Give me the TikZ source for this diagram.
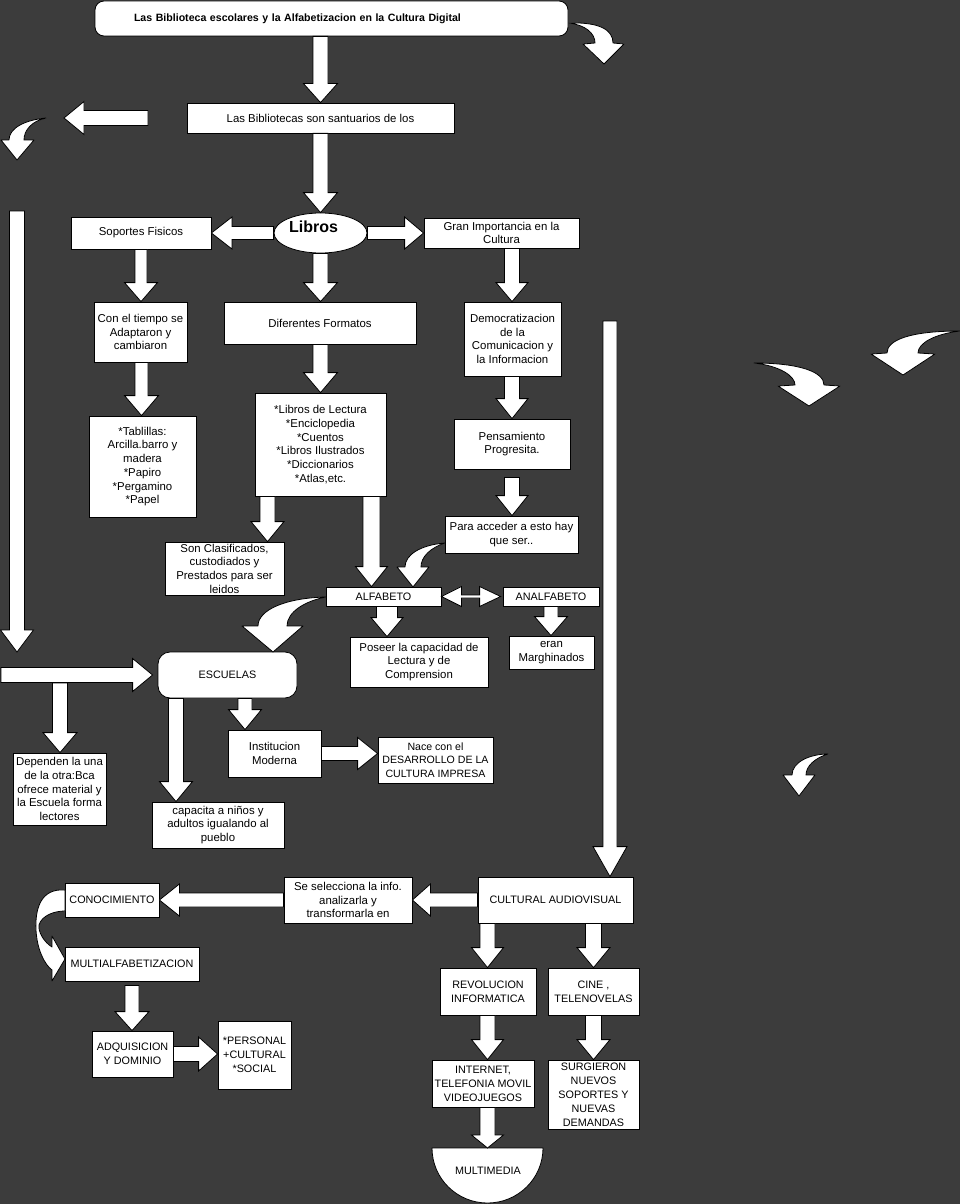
\documentclass[tikz,border=0pt]{standalone}
\usepackage{fontspec}
\setmainfont{Liberation Sans}
\usetikzlibrary{calc,shapes.geometric}
\definecolor{bg}{RGB}{60,60,60}
\tikzset{
  box/.style={draw=black, fill=white, line width=0.8pt, align=center, inner sep=0pt,
    text=black, font=\fontsize{11.4}{13.7}\selectfont},
  caps/.style={font=\fontsize{10.8}{14}\selectfont},
  blk/.style={draw=black, fill=white, line width=0.8pt, line join=miter},
  crv/.style={draw=black, fill=white, line width=0.8pt, line join=round},
}
% box by corners: [options] x1, y1, x2, y2, text, name
\newcommand\bx[7][]{\node[box,#1, minimum width={(#4-#2)*1pt}, minimum height={(#5-#3)*1pt}]
  (#7) at ({(#2+#4)/2},{(#3+#5)/2}) {#6};}
% vertical (downward) block arrow: from, tip, half shaft, half head, head length
\newcommand\varr[5]{\draw[blk] let \p1=#1, \p2=#2 in
  ({\x2-#3pt},{\y1}) -- ({\x2-#3pt},{\y2+#5pt}) -- ({\x2-#4pt},{\y2+#5pt}) -- (\x2,\y2)
  -- ({\x2+#4pt},{\y2+#5pt}) -- ({\x2+#3pt},{\y2+#5pt}) -- ({\x2+#3pt},{\y1}) -- cycle;}
% horizontal block arrow: from, tip, half shaft, half head, signed head length
\newcommand\harr[5]{\draw[blk] let \p1=#1, \p2=#2 in
  ({\x1},{\y2+#3pt}) -- ({\x2-(#5pt)},{\y2+#3pt}) -- ({\x2-(#5pt)},{\y2+#4pt}) -- (\x2,\y2)
  -- ({\x2-(#5pt)},{\y2-#4pt}) -- ({\x2-(#5pt)},{\y2-#3pt}) -- ({\x1},{\y2-#3pt}) -- cycle;}
\begin{document}
\begin{tikzpicture}[x=1pt,y=-1pt]
\fill[bg] (0,0) rectangle (960,1204);
\useasboundingbox (0,0) rectangle (960,1204);

% ---------- boxes ----------
\node[box, rounded corners=9pt, minimum width=473pt, minimum height=35pt, text width=395pt,
  align=left, font=\bfseries\fontsize{10.6}{12}\selectfont] (title) at (331.5,18.5)
  {Las Biblioteca escolares y la Alfabetizacion en la Cultura Digital};
\bx{187}{103}{454}{133}{Las Bibliotecas son santuarios de los}{sant}
\node[draw=black, fill=white, line width=0.8pt, ellipse, minimum width=93pt, minimum height=40pt,
  inner sep=0pt] (libros) at (320.5,233) {};
\node[font=\bfseries\fontsize{16}{18}\selectfont, inner sep=0pt] (librostxt) at (313.5,227) {Libros};
\bx{71}{217}{211}{249}{Soportes Fisicos}{sop}
\bx{424}{218}{579}{248}{Gran Importancia en la\\Cultura}{gran}
\bx{94}{302}{187}{362}{Con el tiempo se\\Adaptaron y\\cambiaron}{cont}
\bx{224}{302}{416}{344}{Diferentes Formatos}{dif}
\bx{464}{302}{561}{376}{Democratizacion\\de la\\Comunicacion y\\la Informacion}{dem}
\bx{89}{416}{196}{517}{*Tablillas:\\Arcilla.barro y\\madera\\*Papiro\\*Pergamino\\*Papel}{tab}
\bx{255}{393}{386}{496}{*Libros de Lectura\\*Enciclopedia\\*Cuentos\\*Libros Ilustrados\\*Diccionarios\\*Atlas,etc.}{lec}
\bx{454}{419}{570}{469}{Pensamiento\\Progresita.}{pens}
\bx{445}{516}{578}{553}{Para acceder a esto hay\\que ser..}{para}
\bx{165}{542}{284}{595}{Son Clasificados,\\custodiados y\\Prestados para ser\\leidos}{cla}
\bx[caps]{326}{587}{441}{606}{ALFABETO}{alf}
\bx[caps]{503}{587}{599}{606}{ANALFABETO}{analf}
\bx{350}{637}{488}{687}{Poseer la capacidad de\\Lectura y de\\Comprension}{pos}
\bx{509}{636}{594}{669}{eran\\Marghinados}{eran}
\bx[caps,rounded corners=12pt]{158}{652}{297}{698}{ESCUELAS}{esc}
\bx{13}{753}{106}{825}{Dependen la una\\de la otra:Bca\\ofrece material y\\la Escuela forma\\lectores}{dep}
\bx{228}{730}{321}{777}{Institucion\\Moderna}{ins}
\bx[font=\fontsize{10.6}{13.7}\selectfont]{378}{737}{493}{783}{Nace con el\\DESARROLLO DE LA\\CULTURA IMPRESA}{nace}
\bx{152}{802}{284}{848}{capacita a niños y\\adultos igualando al\\pueblo}{cap}
\bx[caps]{478}{877}{633}{923}{CULTURAL AUDIOVISUAL}{cult}
\bx{284}{877}{412}{923}{Se selecciona la info.\\analizarla y\\transformarla en}{sel}
\bx[caps]{65}{883}{159}{917}{CONOCIMIENTO}{con}
\bx[caps]{65}{947}{199}{981}{MULTIALFABETIZACION}{mul}
\bx[caps]{92}{1031}{173}{1077}{ADQUISICION\\Y DOMINIO}{adq}
\bx[caps]{218}{1021}{291}{1089}{*PERSONAL\\+CULTURAL\\*SOCIAL}{pers}
\bx[caps]{440}{968}{536}{1015}{REVOLUCION\\INFORMATICA}{rev}
\bx[caps]{548}{968}{639}{1015}{CINE ,\\TELENOVELAS}{cine}
\bx[caps]{432}{1060}{534}{1107}{INTERNET,\\TELEFONIA MOVIL\\VIDEOJUEGOS}{int}
\bx[caps]{548}{1060}{639}{1129}{SURGIERON\\NUEVOS\\SOPORTES Y\\NUEVAS\\DEMANDAS}{surg}
\coordinate (mmtop) at (487.5,1148);
\draw[blk] (432,1148) -- (543,1148) arc[start angle=0, end angle=180, x radius=55.5, y radius=55] -- cycle;
\node[font=\fontsize{10.8}{12}\selectfont, inner sep=0pt] (mm) at (488,1171) {MULTIMEDIA};

% ---------- straight block arrows ----------
\varr{(320.5,0 |- title.south)}{(320.5,0 |- sant.north)}{7.5}{17}{19}
\varr{(320.5,0 |- sant.south)}{(320.5,0 |- libros.north)}{7.5}{17}{20}
\harr{(libros.west)}{(sop.east |- libros.west)}{6.5}{16}{-20.5}
\harr{(libros.east)}{(gran.west |- libros.east)}{6.5}{16}{19}
\varr{(141,0 |- sop.south)}{(141,0 |- cont.north)}{6}{16.5}{19}
\varr{(320.5,0 |- libros.south)}{(320.5,0 |- dif.north)}{7.5}{17}{19}
\varr{(512,0 |- gran.south)}{(512,0 |- dem.north)}{7.5}{16}{19}
\varr{(141.5,0 |- cont.south)}{(141.5,0 |- tab.north)}{6.5}{17}{20}
\varr{(320.5,0 |- dif.south)}{(320.5,0 |- lec.north)}{7.5}{17}{20}
\varr{(512,0 |- dem.south)}{(512,0 |- pens.north)}{7.5}{16}{20}
\varr{($(512,0 |- pens.south)+(0,8)$)}{(512,0 |- para.north)}{7.5}{16}{20}
\varr{(267.5,0 |- lec.south)}{(267.5,0 |- cla.north)}{7.5}{16.5}{20}
\varr{(371.5,0 |- lec.south)}{(371.5,0 |- alf.north)}{8.5}{16}{20}
\varr{(387,0 |- alf.south)}{(387,0 |- pos.north)}{10.5}{16}{19}
\varr{(551,0 |- analf.south)}{(551,0 |- eran.north)}{7}{16.5}{19}
% double arrow ALFABETO <-> ANALFABETO
\draw[blk] let \p1=(alf.east), \p2=(analf.west) in
  (\x1,\y1) -- ({\x1+20pt},{\y1+10pt}) -- ({\x1+20pt},{\y1+1.5pt}) -- ({\x2-23pt},{\y1+1.5pt})
  -- ({\x2-23pt},{\y1+10pt}) -- ({\x2-2pt},{\y1}) -- ({\x2-23pt},{\y1-10pt}) -- ({\x2-23pt},{\y1-1.5pt})
  -- ({\x1+20pt},{\y1-1.5pt}) -- ({\x1+20pt},{\y1-10pt}) -- cycle;
% long left arrow and arrows around ESCUELAS
\coordinate (ltop) at (17,211);
\coordinate (lbot) at (17,652);
\varr{(ltop)}{(lbot)}{7.5}{16.5}{22}
\coordinate (hstart) at (1,675);
\coordinate (hbot) at (60,683);
\harr{(hstart)}{($(esc.west)+(-5,0)$)}{7.5}{16.5}{20}
\varr{(hbot)}{(60,0 |- dep.north)}{7.5}{17}{20}
\varr{(176,0 |- esc.south)}{(176,0 |- cap.north)}{7.5}{16.5}{20}
\varr{(245,0 |- esc.south)}{(245,0 |- ins.north)}{7}{16.5}{20}
\harr{(ins.east)}{(nace.west |- ins.east)}{7}{16}{20}
% long right arrow
\coordinate (rtop) at (610,321);
\varr{(rtop)}{(610,0 |- cult.north)}{7}{17}{30}
\harr{(cult.west)}{(sel.east)}{7}{16}{-18}
\harr{(sel.west)}{(con.east |- sel.west)}{7}{16}{-20}
\varr{($(132,0 |- mul.south)+(0,4)$)}{(132,0 |- adq.north)}{7}{17}{19}
\harr{(adq.east)}{(pers.west |- adq.east)}{7.5}{17}{19}
\varr{(487.5,0 |- cult.south)}{(487.5,0 |- rev.north)}{7.5}{16}{20}
\varr{(593.5,0 |- cult.south)}{(593.5,0 |- cine.north)}{8}{16.5}{20}
\varr{(487.5,0 |- rev.south)}{(487.5,0 |- int.north)}{7.5}{16}{20}
\varr{(593.5,0 |- cine.south)}{(593.5,0 |- surg.north)}{8}{16.5}{20}
\varr{(487.5,0 |- int.south)}{(mmtop)}{7.5}{16}{13}
% small left arrow near top
\coordinate (sastart) at (148,118);
\coordinate (satip) at (64,118);
\harr{(sastart)}{(satip)}{7.5}{16.5}{-20}

% ---------- curved arrows ----------
% title -> right
\draw[crv] (569,23) .. controls (600,22) and (613,30) .. (613,43) -- (624,44) -- (604,64)
  -- (583,44) -- (595,43) .. controls (595,33) and (585,25) .. (569,23) -- cycle;
% top left
\draw[crv] (46,118) .. controls (25,120) and (9,128) .. (9,140) -- (1,140) -- (17,160)
  -- (34,140) -- (24,140) .. controls (24,130) and (32,121) .. (46,118) -- cycle;
% right middle pair
\draw[crv] (754,363) .. controls (800,363) and (824,372) .. (824,385) -- (840,386) -- (809,406)
  -- (778,386) -- (795,385) .. controls (795,376) and (780,366) .. (754,363) -- cycle;
\draw[crv] (960,331) .. controls (910,331) and (887,340) .. (887,353) -- (871,354) -- (903,375)
  -- (935,354) -- (918,353) .. controls (918,343) and (935,334) .. (960,331) -- cycle;
% lower right
\draw[crv] (828,754) .. controls (810,754) and (792,762) .. (792,775) -- (783,775) -- (799,796)
  -- (815,775) -- (806,775) .. controls (806,766) and (815,758) .. (828,754) -- cycle;
% Para acceder -> ALFABETO
\draw[crv] (445,543) .. controls (420,545) and (405,555) .. (405,567) -- (397,567) -- (413,587)
  -- (429,567) -- (421,567) .. controls (421,557) and (430,548) .. (445,543) -- cycle;
% ALFABETO -> ESCUELAS
\draw[crv] (326,597) .. controls (285,598) and (258,610) .. (258,626) -- (242,626) -- (273,652)
  -- (303,626) -- (287,626) .. controls (287,612) and (305,601) .. (326,597) -- cycle;
% CONOCIMIENTO -> MULTIALFABETIZACION
\draw[crv] (65,890) .. controls (40,888) and (35,910) .. (36,930) .. controls (37,950) and (45,965) .. (52,970)
  -- (52,981) -- (65,959) -- (52,936) -- (52,947) .. controls (44,942) and (38,932) .. (39,925)
  .. controls (42,915) and (55,911) .. (65,911) -- cycle;
\end{tikzpicture}
\end{document}
